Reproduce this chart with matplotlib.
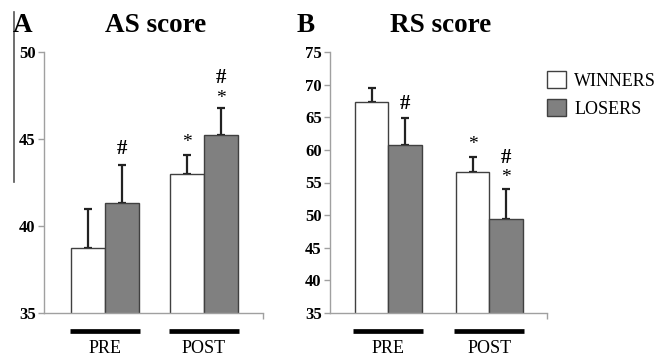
import matplotlib.pyplot as plt
from matplotlib.patches import Patch
from matplotlib.lines import Line2D
import matplotlib.transforms as mtransforms

plt.rcParams['font.family'] = ['Liberation Serif', 'DejaVu Serif']

groups = ["PRE", "POST"]
series = ["WINNERS", "LOSERS"]
colors = ["white", "#808080"]

# AS score
as_mean = {"WINNERS": [38.75, 43.0], "LOSERS": [41.3, 45.25]}
as_err = {"WINNERS": [2.2, 1.1], "LOSERS": [2.2, 1.55]}
# RS score
rs_mean = {"WINNERS": [67.3, 56.6], "LOSERS": [60.75, 49.4]}
rs_err = {"WINNERS": [2.2, 2.35], "LOSERS": [4.15, 4.65]}

# significance marks: (series, group index, text, y)
as_marks = [("LOSERS", 0, "#", 44.4), ("WINNERS", 1, "*", 44.8),
            ("LOSERS", 1, "#", 48.5), ("LOSERS", 1, "*", 47.3)]
rs_marks = [("LOSERS", 0, "#", 67.0), ("WINNERS", 1, "*", 60.9),
            ("LOSERS", 1, "#", 58.75), ("LOSERS", 1, "*", 55.8)]

axis_grey = "#a0a0a0"
edge = "#404040"

fig = plt.figure(figsize=(6.61, 3.57), dpi=100)
axA = fig.add_axes([44/661, 1-313/357, 219/661, 261/357])
axB = fig.add_axes([330/661, 1-313/357, 217/661, 261/357])


def draw_panel(ax, means, errs, marks, ylim, yticks, xlim, width, barhalf):
    x = range(len(groups))
    for i, s in enumerate(series):
        pos = [g + (i - 0.5) * width for g in x]
        ax.bar(pos, means[s], width, bottom=0, color=colors[i], edgecolor=edge,
               linewidth=1, zorder=2)
        ax.errorbar(pos, means[s], yerr=[[0]*len(pos), errs[s]], fmt='none',
                    ecolor='#222222', elinewidth=1.6, capsize=2.6, capthick=1.6, zorder=1)
    for s, g, txt, y in marks:
        i = series.index(s)
        xp = g + (i - 0.5) * width
        ax.text(xp, y, txt, ha='center', va='center',
                fontsize=15 if txt == "#" else 14,
                fontweight='bold' if txt == "#" else 'normal')
    ax.set_ylim(*ylim)
    ax.set_xlim(*xlim)
    ax.set_yticks(yticks)
    ax.set_yticklabels([str(t) for t in yticks])
    for lab in ax.get_yticklabels():
        lab.set_fontweight('bold')
        lab.set_fontsize(12)
    ax.set_xticks([xlim[1]])
    ax.set_xticklabels([''])
    ax.tick_params(axis='y', direction='out', length=4, color=axis_grey, width=1, pad=2)
    ax.tick_params(axis='x', direction='out', length=4, color=axis_grey, width=1)
    for sp in ['top', 'right']:
        ax.spines[sp].set_visible(False)
    for sp in ['left', 'bottom']:
        ax.spines[sp].set_color(axis_grey)
        ax.spines[sp].set_linewidth(1)
    trans = mtransforms.blended_transform_factory(ax.transData, ax.transAxes)
    for g, name in enumerate(groups):
        ax.add_line(Line2D([g - barhalf, g + barhalf], [-0.069, -0.069], color='black',
                           linewidth=3.4, transform=trans, clip_on=False,
                           solid_capstyle='butt'))
        ax.text(g, -0.135, name, transform=trans, ha='center', va='center', fontsize=13)


draw_panel(axA, as_mean, as_err, as_marks, (35, 50), [35, 40, 45, 50],
           (-0.616, 1.596), 0.343, 0.354)
draw_panel(axB, rs_mean, rs_err, rs_marks, (35, 75), list(range(35, 80, 5)),
           (-0.577, 1.571), 0.33, 0.345)

# titles and panel letters
fig.text(156/661, 1-25/357, "AS score", ha='center', va='center', fontsize=19.5, fontweight='bold')
fig.text(441/661, 1-25/357, "RS score", ha='center', va='center', fontsize=19.5, fontweight='bold')
fig.text(13/661, 1-25/357, "A", ha='left', va='center', fontsize=19.5, fontweight='bold')
fig.text(297/661, 1-25/357, "B", ha='left', va='center', fontsize=19.5, fontweight='bold')

# stray vertical rule at left edge
fig.add_artist(Line2D([14/661, 14/661], [1-12/357, 1-182/357], color='#555555',
                      linewidth=1.2, transform=fig.transFigure))

handles = [Patch(facecolor=c, edgecolor=edge, linewidth=1) for c in colors]
fig.legend(handles, series, loc='upper left', bbox_to_anchor=(547/661, 1-71/357),
           frameon=False, fontsize=13, handlelength=1.05, handleheight=1.05,
           handletextpad=0.45, labelspacing=0.55, borderpad=0, borderaxespad=0)

fig.savefig("out.png", dpi=100)
